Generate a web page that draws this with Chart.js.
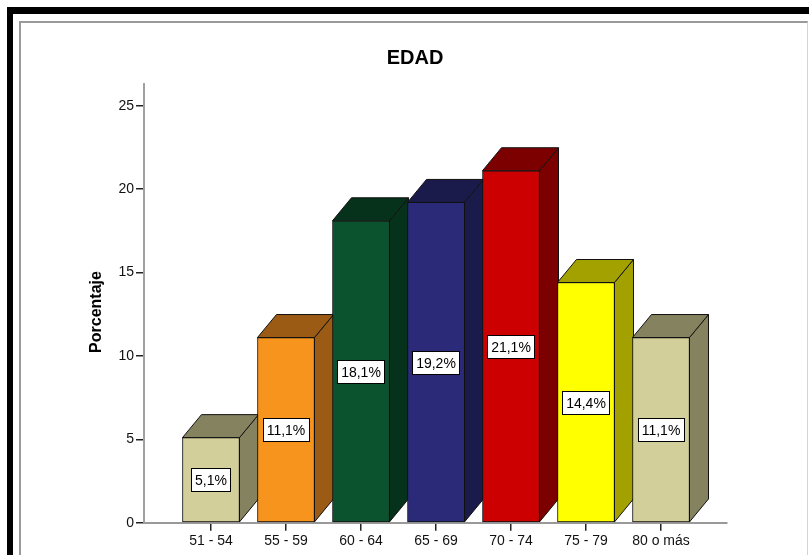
<!DOCTYPE html>
<html>
<head>
<meta charset="utf-8">
<title>EDAD</title>
<script src="https://cdn.jsdelivr.net/npm/chart.js@4"></script>
<style>
  body { margin: 0; background: #fff; }
  #wrap { position: relative; width: 809px; height: 555px; overflow: hidden; background: #fff; }
  #frame { position: absolute; left: 7px; top: 7px; width: 900px; height: 700px;
           border-top: 7px solid #000; border-left: 6px solid #000; }
  #inner { position: absolute; left: 19px; top: 21px; width: 786px; height: 700px;
           border-top: 2px solid #9a9a9a; border-left: 2px solid #9a9a9a; border-right: 1px solid #d4d4d4; }
  canvas { position: absolute; left: 0; top: 0; }
</style>
</head>
<body>
<div id="wrap">
  <div id="frame"></div>
  <div id="inner"></div>
  <canvas id="chart" width="809" height="555"></canvas>
</div>
<script>
const categories = ['51 - 54', '55 - 59', '60 - 64', '65 - 69', '70 - 74', '75 - 79', '80 o más'];
const percentages = [5.1, 11.1, 18.1, 19.2, 21.1, 14.4, 11.1];
const yTicks = [0, 5, 10, 15, 20, 25];

const frontColors = ['#d3cf9b', '#f7941e', '#0b522e', '#2a2a78', '#cc0000', '#ffff00', '#d3cf9b'];
const shadeColors = ['#85825f', '#9c5b14', '#06311b', '#1a1a4b', '#7c0000', '#a3a100', '#85825f'];

const FONT = '"Liberation Sans", Arial, sans-serif';
// offset of the back face of each box
const DX = 19, DY = -23;

// side and top faces, drawn before the fronts so the next bar covers them
const boxDepth = {
  id: 'boxDepth',
  beforeDatasetsDraw(chart) {
    const ctx = chart.ctx;
    const bars = chart.getDatasetMeta(0).data;
    ctx.save();
    ctx.lineWidth = 1;
    ctx.strokeStyle = '#111';
    ctx.lineJoin = 'round';
    bars.forEach((bar, i) => {
      const l = bar.x - bar.width / 2, r = bar.x + bar.width / 2;
      const top = bar.y, base = bar.base;
      ctx.fillStyle = shadeColors[i];
      ctx.beginPath();
      ctx.moveTo(r, top);
      ctx.lineTo(r + DX, top + DY);
      ctx.lineTo(r + DX, base + DY);
      ctx.lineTo(r, base);
      ctx.closePath();
      ctx.fill();
      ctx.stroke();
      ctx.beginPath();
      ctx.moveTo(l, top);
      ctx.lineTo(l + DX, top + DY);
      ctx.lineTo(r + DX, top + DY);
      ctx.lineTo(r, top);
      ctx.closePath();
      ctx.fill();
      ctx.stroke();
    });
    ctx.restore();
  }
};

// boxed value labels in the middle of each front face
const valueBoxes = {
  id: 'valueBoxes',
  afterDatasetsDraw(chart) {
    const ctx = chart.ctx;
    const bars = chart.getDatasetMeta(0).data;
    ctx.save();
    ctx.font = '14px ' + FONT;
    ctx.textAlign = 'center';
    ctx.textBaseline = 'middle';
    bars.forEach((bar, i) => {
      const text = percentages[i].toFixed(1).replace('.', ',') + '%';
      const w = Math.round(ctx.measureText(text).width + 7);
      const h = 23;
      const cx = bar.x, cy = (bar.y + bar.base) / 2;
      const bx = Math.round(cx - w / 2) + 0.5, by = Math.round(cy - h / 2) + 0.5;
      ctx.fillStyle = '#fff';
      ctx.fillRect(bx, by, w, h);
      ctx.strokeStyle = '#000';
      ctx.lineWidth = 1;
      ctx.strokeRect(bx, by, w, h);
      ctx.fillStyle = '#000';
      ctx.fillText(text, cx, by + h / 2 + 1);
    });
    ctx.restore();
  }
};

// chart title and the rotated axis title
const titles = {
  id: 'titles',
  afterDraw(chart) {
    const ctx = chart.ctx;
    ctx.save();
    ctx.fillStyle = '#000';
    ctx.textAlign = 'center';
    ctx.textBaseline = 'middle';
    ctx.font = 'bold 20px ' + FONT;
    ctx.fillText('EDAD', 415, 58);
    ctx.translate(97, 312);
    ctx.rotate(-Math.PI / 2);
    ctx.font = 'bold 16px ' + FONT;
    ctx.fillText('Porcentaje', 0, 0);
    ctx.restore();
  }
};

new Chart(document.getElementById('chart'), {
  type: 'bar',
  data: {
    labels: categories,
    datasets: [{
      data: percentages.map((v, i) => ({ x: i, y: v })),
      backgroundColor: frontColors,
      borderColor: '#111',
      borderWidth: 1,
      borderSkipped: false,
      barThickness: 57
    }]
  },
  plugins: [boxDepth, valueBoxes, titles],
  options: {
    responsive: false,
    animation: false,
    layout: { padding: { top: 83.5, right: 82, bottom: 0, left: 0 } },
    plugins: {
      legend: { display: false },
      tooltip: { enabled: false },
      title: { display: false }
    },
    scales: {
      x: {
        type: 'linear',
        min: -0.893,
        max: 6.88,
        offset: false,
        afterBuildTicks: scale => { scale.ticks = categories.map((c, i) => ({ value: i })); },
        afterFit: scale => { scale.height = 32.3; },
        grid: { display: true, drawOnChartArea: false, offset: false, tickLength: 8, color: '#222', lineWidth: 1.5 },
        border: { display: true, color: '#999', width: 2 },
        ticks: {
          autoSkip: false,
          maxRotation: 0,
          padding: 2,
          color: '#111',
          font: { family: FONT, size: 14 },
          callback: v => categories[v]
        }
      },
      y: {
        min: 0,
        max: 26.33,
        afterBuildTicks: scale => { scale.ticks = yTicks.map(v => ({ value: v })); },
        afterFit: scale => { scale.width = 144; },
        grid: { display: true, drawOnChartArea: false, tickLength: 8, color: '#222', lineWidth: 1.5 },
        border: { display: true, color: '#a0a0a0', width: 2 },
        ticks: {
          padding: 2,
          color: '#111',
          font: { family: FONT, size: 14 }
        }
      }
    }
  }
});
</script>
</body>
</html>
